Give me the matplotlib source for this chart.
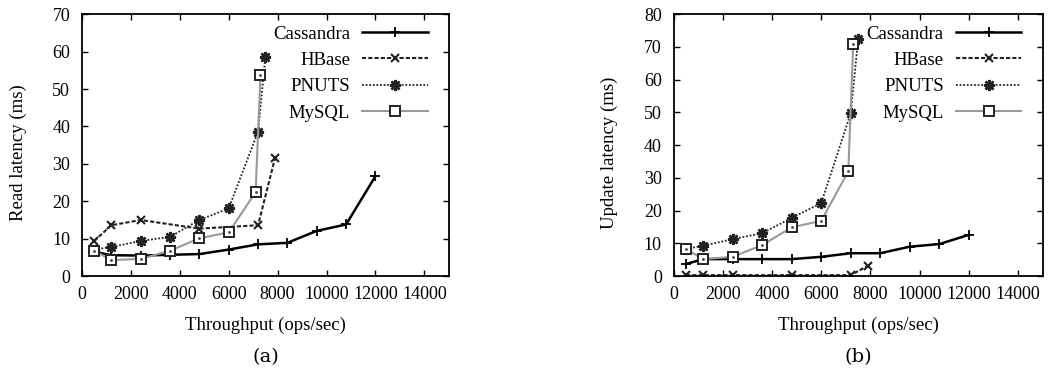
import numpy as np
import matplotlib.pyplot as plt

plt.rcParams['font.family'] = ['Liberation Serif', 'DejaVu Serif']

# (a) read latency
cas_x = [500, 1200, 2400, 3600, 4800, 6000, 7200, 8400, 9600, 10800, 12000]
cas_read = [6.5, 5.6, 5.5, 5.7, 5.9, 7.1, 8.5, 8.9, 12.1, 13.8, 26.7]
hb_x = [500, 1200, 2400, 4800, 7200, 7900]
hb_read = [9.4, 13.6, 15.0, 12.7, 13.6, 31.7]
pn_x = [500, 1200, 2400, 3600, 4800, 6000, 7200, 7500]
pn_read = [7.1, 7.8, 9.4, 10.5, 15.0, 18.1, 38.6, 58.6]
my_x = [500, 1200, 2400, 3600, 4800, 6000, 7100, 7300]
my_read = [6.8, 4.3, 4.6, 6.8, 10.1, 11.7, 22.4, 53.7]

# (b) update latency
cas_upd = [3.7, 5.2, 5.2, 5.2, 5.2, 5.9, 7.0, 7.0, 9.0, 9.8, 12.6]
hb_upd = [0.3, 0.3, 0.3, 0.3, 0.3, 3.2]
pn_upd = [8.3, 9.3, 11.3, 13.1, 17.8, 22.3, 49.8, 72.3]
my_upd = [8.3, 5.2, 5.9, 9.5, 14.9, 16.9, 32.0, 71.0]

labels = ['Cassandra', 'HBase', 'PNUTS', 'MySQL']


def draw(ax, ys, ymax, ylabel, tag):
    ax.plot(cas_x, ys[0], color='black', lw=1.8, marker='+', ms=7, mew=1.3,
            label=labels[0])
    ax.plot(hb_x, ys[1], color='#222222', lw=1.5, ls=(0, (2, 1)), marker='x',
            ms=6, mew=1.5, label=labels[1])
    ax.plot(pn_x, ys[2], color='#222222', lw=1.3, ls=(0, (1, 1)), marker=(8, 2, 0),
            ms=8, mew=1.8, label=labels[2])
    ax.plot(my_x, ys[3], color='#999999', lw=1.5, marker='s', ms=6.5, mfc='white',
            mec='#222222', mew=1.4, label=labels[3])
    ax.plot(my_x, ys[3], ls='none', marker='.', ms=2, color='#444444')
    ax.set_xlim(0, 15000)
    ax.set_ylim(0, ymax)
    ax.set_xticks(np.arange(0, 14001, 2000))
    ax.set_yticks(np.arange(0, ymax + 1, 10))
    ax.tick_params(direction='in', top=True, right=True, length=4, width=1,
                   labelsize=13)
    ax.tick_params(axis='y', pad=8.5)
    ax.tick_params(axis='x', pad=7)
    for s in ax.spines.values():
        s.set_linewidth(1.3)
    ax.set_xlabel('Throughput (ops/sec)', fontsize=13.5)
    ax.xaxis.set_label_coords(0.5, -0.155)
    ax.set_ylabel(ylabel, fontsize=13.5)
    ax.yaxis.set_label_coords(-0.15, 0.47)
    ax.legend(loc='upper right', frameon=False, markerfirst=False, fontsize=13.5,
              handlelength=3.5, handletextpad=0.64, labelspacing=0.49,
              borderaxespad=0, bbox_to_anchor=(0.963, 0.985))
    ax.text(0.5, -0.31, tag, transform=ax.transAxes, ha='center', va='center',
            fontsize=14, family='DejaVu Serif')


fig = plt.figure(figsize=(10.51, 3.83), dpi=100)
ax1 = fig.add_axes([0.078, 0.279, 0.349, 0.684])
ax2 = fig.add_axes([0.641, 0.279, 0.351, 0.684])
draw(ax1, [cas_read, hb_read, pn_read, my_read], 70, 'Read latency (ms)', '(a)')
draw(ax2, [cas_upd, hb_upd, pn_upd, my_upd], 80, 'Update latency (ms)', '(b)')

fig.savefig('out.png', dpi=100)
